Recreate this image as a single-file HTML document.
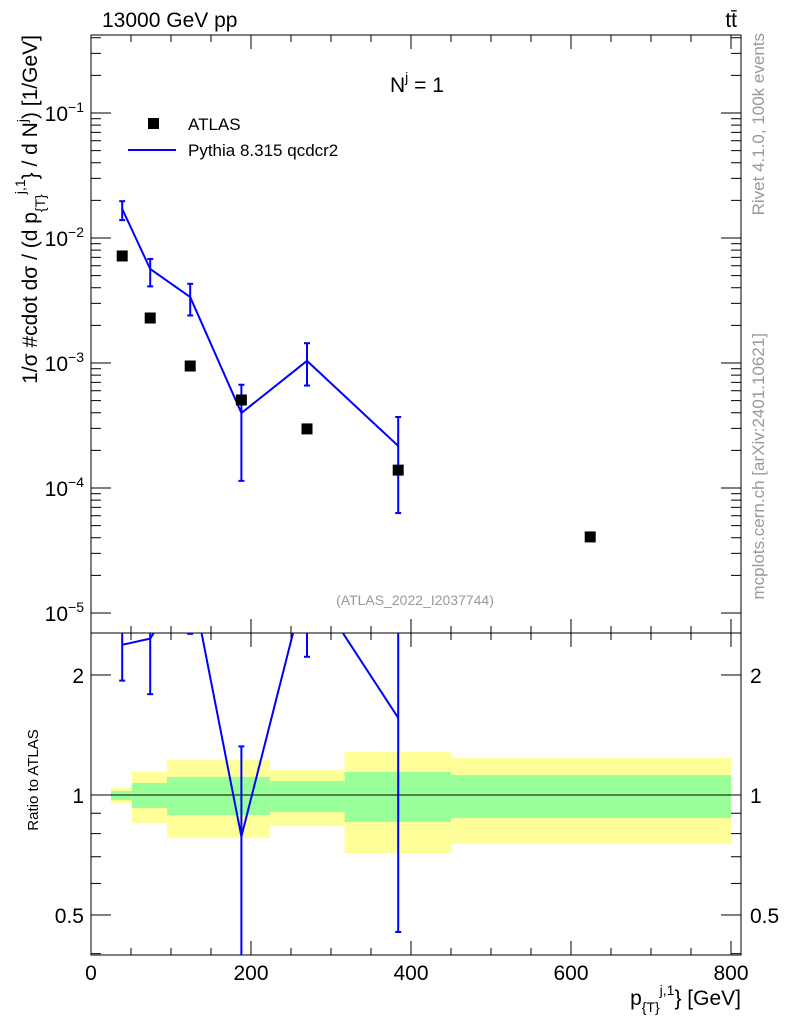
<!DOCTYPE html>
<html><head><meta charset="utf-8"><style>
body{margin:0;background:#fff;}
svg{display:block;font-family:"Liberation Sans",sans-serif;}
</style></head><body>
<svg id="c" width="786" height="1024" xmlns="http://www.w3.org/2000/svg"></svg>
<script>
const xCenters=[39,74,124,188,270,384,624];
const atlasVals=[0.00718,0.00229,0.000946,0.000506,0.000297,0.000139,0.0000406];
const pyX=[39,74,124,188,270,384];
const pyVals=[0.0171,0.00565,0.00337,0.000398,0.00104,0.000217];
const pyErrHi=[0.0197,0.0068,0.0043,0.00067,0.00144,0.00037];
const pyErrLo=[0.0139,0.0041,0.0024,0.000114,0.00066,0.000063];
const binEdges=[25,51,95,224,317,450,800];
const yelHi=[1.041,1.142,1.224,1.155,1.282,1.238];
const yelLo=[0.955,0.851,0.780,0.836,0.715,0.754];
const grnHi=[1.023,1.072,1.110,1.084,1.142,1.122];
const grnLo=[0.971,0.928,0.891,0.906,0.856,0.876];
const xTicks=[0,200,400,600,800];
const yDecades=[-5,-4,-3,-2,-1];
const rTicks=[0.5,1,2];

const NS="http://www.w3.org/2000/svg";
const svg=document.getElementById('c');
const L=91,R=741,T=35,M=633,B=955;
const X=v=>L+v*0.8;
const Y=v=>113-(Math.log10(v)+1)*125;
const RY=v=>795-Math.log2(v)*120;
function el(tag,attrs,parent){const e=document.createElementNS(NS,tag);for(const k in attrs)e.setAttribute(k,attrs[k]);(parent||svg).appendChild(e);return e;}
function txt(s,attrs){const e=el('text',attrs);e.textContent=s;return e;}

const defs=el('defs',{});
const cp1=el('clipPath',{id:'cm'},defs);el('rect',{x:L,y:T,width:R-L,height:M-T},cp1);
const cp2=el('clipPath',{id:'cr'},defs);el('rect',{x:L,y:M,width:R-L,height:B-M},cp2);

const bands=el('g',{'clip-path':'url(#cr)'});

for(let i=0;i<yelHi.length;i++){
 const r=el('rect',{x:X(binEdges[i]),y:RY(yelHi[i]),width:X(binEdges[i+1])-X(binEdges[i]),height:RY(yelLo[i])-RY(yelHi[i]),fill:'#ffff99'},bands);
 
 const g=el('rect',{x:X(binEdges[i]),y:RY(grnHi[i]),width:X(binEdges[i+1])-X(binEdges[i]),height:RY(grnLo[i])-RY(grnHi[i]),fill:'#99ff99'},bands);
 
}
el('line',{x1:L,x2:R,y1:RY(1),y2:RY(1),stroke:'#000','stroke-width':1});

el('rect',{x:L,y:T,width:R-L,height:M-T,fill:'none',stroke:'#000','stroke-width':1});
el('rect',{x:L,y:M,width:R-L,height:B-M,fill:'none',stroke:'#000','stroke-width':1});

for(let v=0;v<=800;v+=50){
 const maj=v%200===0,len=maj?14:7;
 for(const [y0,y1] of [[M,M-len],[T,T+len],[B,B-len],[M,M+len]]) el('line',{x1:X(v),x2:X(v),y1:y0,y2:y1,stroke:'#000'});
}
xTicks.forEach(v=>{const t=txt(String(v),{x:X(v),y:980,'font-size':21,'text-anchor':'middle'});});
yDecades.forEach(d=>{
 for(let m=1;m<10;m++){const v=m*Math.pow(10,d);const y=Y(v);if(y<T||y>M)continue;const len=m===1?20:10;
  el('line',{x1:L,x2:L+len,y1:y,y2:y,stroke:'#000'});el('line',{x1:R,x2:R-len,y1:y,y2:y,stroke:'#000'});}
 const t=el('text',{x:84,y:Y(Math.pow(10,d))+8,'font-size':21,'text-anchor':'end'});
 
 t.innerHTML='10<tspan dy="-9" font-size="14">−'+(-d)+'</tspan>';
});
[0.4,0.5,0.6,0.7,0.8,0.9,1,2].forEach(v=>{const y=RY(v);if(y>B)return;const len=(v===1||v===2||v===0.5)?20:10;
 el('line',{x1:L,x2:L+len,y1:y,y2:y,stroke:'#000'});el('line',{x1:R,x2:R-len,y1:y,y2:y,stroke:'#000'});});
rTicks.forEach(v=>{const lab=String(v);
 let t=txt(lab,{x:84,y:RY(v)+8,'font-size':21,'text-anchor':'end'});
 t=txt(lab,{x:750,y:RY(v)+8,'font-size':21});});

const gm=el('g',{'clip-path':'url(#cm)'});
const pl=el('polyline',{points:pyX.map((x,i)=>X(x)+','+Y(pyVals[i])).join(' '),fill:'none',stroke:'#0000ff','stroke-width':2},gm);

pyX.forEach((x,i)=>{const e=el('line',{x1:X(x),x2:X(x),y1:Y(pyErrHi[i]),y2:Y(pyErrLo[i]),stroke:'#0000ff','stroke-width':2},gm);
 
 el('line',{x1:X(x)-3,x2:X(x)+3,y1:Y(pyErrHi[i]),y2:Y(pyErrHi[i]),stroke:'#0000ff','stroke-width':2},gm);
 el('line',{x1:X(x)-3,x2:X(x)+3,y1:Y(pyErrLo[i]),y2:Y(pyErrLo[i]),stroke:'#0000ff','stroke-width':2},gm);});
xCenters.forEach((x,i)=>{const r=el('rect',{x:X(x)-5.5,y:Y(atlasVals[i])-5.5,width:11,height:11,fill:'#000'});
 });
const gr=el('g',{'clip-path':'url(#cr)'});
const rl=el('polyline',{points:pyX.map((x,i)=>X(x)+','+RY(pyVals[i]/atlasVals[i])).join(' '),fill:'none',stroke:'#0000ff','stroke-width':2},gr);

pyX.forEach((x,i)=>{const hi=RY(pyErrHi[i]/atlasVals[i]),lo=RY(pyErrLo[i]/atlasVals[i]);
 const e=el('line',{x1:X(x),x2:X(x),y1:hi,y2:lo,stroke:'#0000ff','stroke-width':2},gr);
 
 el('line',{x1:X(x)-3,x2:X(x)+3,y1:hi,y2:hi,stroke:'#0000ff','stroke-width':2},gr);
 el('line',{x1:X(x)-3,x2:X(x)+3,y1:lo,y2:lo,stroke:'#0000ff','stroke-width':2},gr);});

let r=el('rect',{x:148,y:118,width:11,height:11,fill:'#000'});
let t=txt('ATLAS',{x:188,y:130,'font-size':17});
let l=el('line',{x1:128,x2:176,y1:150,y2:150,stroke:'#0000ff','stroke-width':2});
t=txt('Pythia 8.315 qcdcr2',{x:188,y:156,'font-size':17});

t=txt('13000 GeV pp',{x:102,y:27,'font-size':21});
t=txt('tt̄',{x:737,y:27,'font-size':21,'text-anchor':'end'});
t=el('text',{x:390,y:92,'font-size':21});t.innerHTML='N<tspan dy="-10" font-size="14">j</tspan><tspan dy="10"> = 1</tspan>';
t=txt('(ATLAS_2022_I2037744)',{x:415,y:605,'font-size':14,fill:'#999','text-anchor':'middle'});
t=el('text',{x:0,y:0,'font-size':21,'text-anchor':'end',transform:'translate(37,35) rotate(-90)'});
t.innerHTML='1/σ #cdot dσ / (d p<tspan dy="8" font-size="14">{T}</tspan><tspan dy="-20" font-size="14">j,1</tspan><tspan dy="12">} / d N</tspan><tspan dy="-10" font-size="14">j</tspan><tspan dy="10">) [1/GeV]</tspan>';

t=txt('Ratio to ATLAS',{x:0,y:0,'font-size':15,'text-anchor':'middle',transform:'translate(38,780) rotate(-90)'});
t=el('text',{x:741,y:1005,'font-size':21,'text-anchor':'end'});
t.innerHTML='p<tspan dy="7" font-size="14">{T}</tspan><tspan dy="-17" font-size="14">j,1</tspan><tspan dy="10">} [GeV]</tspan>';

t=txt('Rivet 4.1.0,  100k events',{x:0,y:0,'font-size':17,fill:'#999','text-anchor':'end',transform:'translate(764,33) rotate(-90)'});
t=txt('mcplots.cern.ch [arXiv:2401.10621]',{x:0,y:0,'font-size':17,fill:'#999','text-anchor':'end',transform:'translate(764,333) rotate(-90)'});
</script>
</body></html>
